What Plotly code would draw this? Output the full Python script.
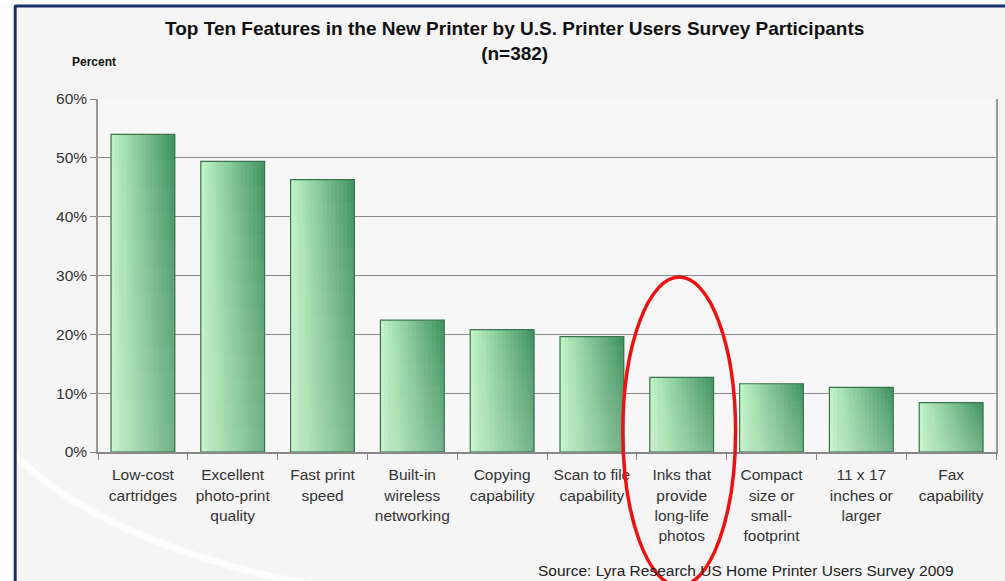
import plotly.graph_objects as go

categories = ["Low-cost<br>cartridges", "Excellent<br>photo-print<br>quality", "Fast print<br>speed",
              "Built-in<br>wireless<br>networking", "Copying<br>capability", "Scan to file<br>capability",
              "Inks that<br>provide<br>long-life<br>photos", "Compact<br>size or<br>small-<br>footprint",
              "11 x 17<br>inches or<br>larger", "Fax<br>capability"]
values = [54.0, 49.4, 46.3, 22.4, 20.8, 19.6, 12.7, 11.6, 11.0, 8.4]
y_ticks = [0, 10, 20, 30, 40, 50, 60]

W, H = 1005, 581
ML, MR, MT, MB = 98, 7, 99, 129
PW, PH = W - ML - MR, H - MT - MB

def px(x):
    return (x - ML) / PW

def py(y):
    return (H - MB - y) / PH

fig = go.Figure()

bar_w = 0.71
N = 16
c0 = (190, 242, 196)
c1 = (62, 146, 96)
for i in range(N):
    t = i / (N - 1)
    col = tuple(round(c0[k] + (c1[k] - c0[k]) * t) for k in range(3))
    fig.add_trace(go.Bar(
        x=categories, y=values, width=bar_w / N + 0.006,
        offset=-bar_w / 2 + i * bar_w / N - (0.003 if i > 0 else 0),
        marker=dict(color="rgb(%d,%d,%d)" % col, line=dict(width=0)),
        showlegend=False, hoverinfo="skip"))
# gentle lightening toward the base
K = 12
for k in range(1, K + 1):
    f = k / K
    fig.add_trace(go.Bar(
        x=categories, y=[v * f for v in values], width=bar_w, offset=-bar_w / 2,
        marker=dict(color="rgba(225,255,228,0.035)", line=dict(width=0)),
        showlegend=False, hoverinfo="skip"))
fig.add_trace(go.Bar(
    x=categories, y=values, width=bar_w, offset=-bar_w / 2,
    marker=dict(color="rgba(0,0,0,0)", line=dict(color="#37744e", width=1.2)),
    showlegend=False, hovertemplate="%{y}%<extra></extra>"))

shapes = [
    dict(type="rect", xref="paper", yref="paper", layer="below",
         x0=px(-5), x1=px(1010), y0=py(-5), y1=py(5), fillcolor="white", line=dict(width=0)),
    dict(type="rect", xref="paper", yref="paper", layer="below",
         x0=px(-5), x1=px(14), y0=py(-5), y1=py(600), fillcolor="white", line=dict(width=0)),
    # white swoosh
    dict(type="path", xref="paper", yref="paper", layer="below",
         path="M %f %f Q %f %f %f %f" % (px(15), py(455), px(110), py(550), px(340), py(590)),
         line=dict(color="rgba(255,255,255,0.75)", width=7)),
    # navy frame
    dict(type="line", xref="paper", yref="paper", x0=px(15), x1=px(15), y0=py(6), y1=py(600),
         line=dict(color="#1b2f6b", width=3)),
    dict(type="line", xref="paper", yref="paper", x0=px(14), x1=px(1010), y0=py(6), y1=py(6),
         line=dict(color="#1b2f6b", width=3)),
    # red ellipse
    dict(type="circle", xref="paper", yref="paper", x0=px(624), x1=px(737), y0=py(277), y1=py(586),
         line=dict(color="#ee1111", width=3.5), fillcolor="rgba(0,0,0,0)"),
]

fig.update_layout(
    width=W, height=H,
    margin=dict(l=ML, r=MR, t=MT, b=MB),
    paper_bgcolor="#f5f5f5", plot_bgcolor="rgba(250,250,250,0.5)",
    barmode="overlay",
    font=dict(family="Liberation Sans, Arial, sans-serif", color="#333333", size=15),
    showlegend=False,
    shapes=shapes,
    annotations=[
        dict(text="<b>Top Ten Features in the New Printer by U.S. Printer Users Survey Participants<br>(n=382)</b>",
             xref="paper", yref="paper", x=px(515), y=py(16), xanchor="center", yanchor="top",
             showarrow=False, font=dict(size=19, color="#111111")),
        dict(text="<b>Percent</b>", xref="paper", yref="paper", x=px(70), y=py(62),
             xanchor="left", yanchor="middle", showarrow=False, font=dict(size=12, color="#111111")),
        dict(text="Source: Lyra Research US Home Printer Users Survey 2009", xref="paper", yref="paper",
             x=px(537), y=py(570), xanchor="left", yanchor="middle", showarrow=False,
             font=dict(size=15.5, color="#222222")),
    ],
    xaxis=dict(showline=True, linecolor="#888888", linewidth=1.5, ticks="outside", tickson="boundaries",
               ticklen=6, tickcolor="#888888", showgrid=False, ticklabelstandoff=8,
               tickfont=dict(size=15.5, color="#333333")),
    yaxis=dict(range=[0, 60], tickvals=y_ticks, ticktext=[f"{v}%" for v in y_ticks],
               showline=True, mirror=True, linecolor="#999999", linewidth=1.5,
               ticks="outside", ticklen=6, tickcolor="#888888",
               showgrid=True, gridcolor="#8c8c8c", gridwidth=1, zeroline=False,
               tickfont=dict(size=15.5, color="#333333")),
)

fig.write_html("out.html")
